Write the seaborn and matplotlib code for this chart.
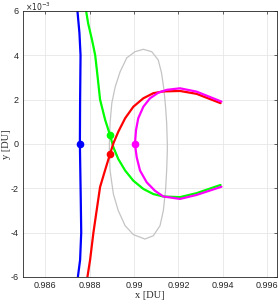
import numpy as np
import matplotlib
matplotlib.use("Agg")
import matplotlib.pyplot as plt
import seaborn as sns
from matplotlib.ticker import FuncFormatter

sns.set_style("whitegrid")
plt.rcParams['font.family'] = ['Liberation Sans', 'DejaVu Sans']

# trajectories (x in DU, y in 1e-3 DU)
blue_x = [0.98745, 0.98754, 0.98759, 0.98757, 0.98756, 0.98760, 0.98762, 0.98757, 0.98747, 0.98744]
blue_y = [6.0, 5.0, 4.0, 1.98, 0.0, -2.52, -4.0, -5.23, -6.0, -6.3]

green_x = [0.98782, 0.98784, 0.98793, 0.98811, 0.98825, 0.98834, 0.98847, 0.98870, 0.98892,
           0.98907, 0.98929, 0.98960, 0.98997, 0.99042, 0.99087, 0.99132, 0.99207, 0.99282, 0.99390]
green_y = [6.3, 6.0, 5.45, 4.68, 4.0, 3.2, 2.0, 1.08, 0.4,
           -0.15, -0.68, -1.20, -1.66, -2.03, -2.26, -2.37, -2.40, -2.22, -1.85]

red_x = [0.98788, 0.98790, 0.98802, 0.98817, 0.98832, 0.98847, 0.98870, 0.98892,
         0.98907, 0.98929, 0.98960, 0.98997, 0.99042, 0.99087, 0.99132, 0.99207, 0.99282, 0.99390]
red_y = [-6.3, -6.0, -5.23, -4.0, -2.97, -1.94, -1.17, -0.45,
         0.03, 0.55, 1.16, 1.68, 2.06, 2.29, 2.37, 2.39, 2.26, 1.84]

magenta_x = [0.99394, 0.99282, 0.99207, 0.99147, 0.99109, 0.99072, 0.99042, 0.99019, 0.99009, 0.99004,
             0.99012, 0.99027, 0.99057, 0.99094, 0.99132, 0.99207, 0.99282, 0.99394]
magenta_y = [1.91, 2.36, 2.51, 2.44, 2.31, 2.06, 1.68, 1.16, 0.63, 0.0,
             -0.60, -1.20, -1.73, -2.11, -2.37, -2.48, -2.30, -1.93]

gray_x = [0.98889, 0.98892, 0.98900, 0.98915, 0.98937, 0.98967, 0.99004, 0.99042, 0.99080,
          0.99109, 0.99124, 0.99135, 0.99142, 0.99147, 0.99150,
          0.99150, 0.99147, 0.99142, 0.99132, 0.99117, 0.99087, 0.99049, 0.98997,
          0.98960, 0.98929, 0.98907, 0.98892, 0.98889, 0.98889]
gray_y = [0.0, 0.95, 1.85, 2.57, 3.25, 3.88, 4.16, 4.27, 4.16,
          3.79, 3.20, 2.44, 1.68, 0.95, 0.0,
          -0.30, -1.20, -2.11, -3.01, -3.69, -4.14, -4.29, -4.09,
          -3.69, -3.01, -2.26, -1.20, -0.30, 0.0]

# start points
marker_x = [0.98755, 0.98892, 0.98892, 0.99004]
marker_y = [0.0, 0.4, -0.45, 0.0]
marker_colors = ['#0000ff', '#00ff00', '#ff0000', '#ff00ff']

fig = plt.figure(figsize=(2.78, 3.04), dpi=100)
ax = fig.add_axes([0.083, 0.089, 0.914, 0.875])

sns.lineplot(x=gray_x, y=gray_y, sort=False, estimator=None, color='#c4c4c4', lw=0.9, ax=ax)
sns.lineplot(x=blue_x, y=blue_y, sort=False, estimator=None, color='#0000ff', lw=1.6, ax=ax)
sns.lineplot(x=green_x, y=green_y, sort=False, estimator=None, color='#00ff00', lw=1.6, ax=ax)
sns.lineplot(x=red_x, y=red_y, sort=False, estimator=None, color='#ff0000', lw=1.6, ax=ax)
sns.lineplot(x=magenta_x, y=magenta_y, sort=False, estimator=None, color='#ff00ff', lw=1.6, ax=ax)
for mx, my, c in zip(marker_x, marker_y, marker_colors):
    ax.plot(mx, my, 'o', color=c, ms=4.5, zorder=5)

ax.set_xlim(0.985, 0.99645)
ax.set_ylim(-6, 6)
ax.set_xticks([0.986, 0.988, 0.990, 0.992, 0.994, 0.996])
ax.set_yticks([-6, -4, -2, 0, 2, 4, 6])
ax.xaxis.set_major_formatter(FuncFormatter(lambda v, p: f"{v:g}"))
ax.yaxis.set_major_formatter(FuncFormatter(lambda v, p: f"{v:g}"))

ax.grid(True, color='#e6e6e6', lw=0.6)
for s in ax.spines.values():
    s.set_color('#262626')
    s.set_linewidth(0.6)
ax.tick_params(direction='in', length=2.5, width=0.5, colors='#262626',
               labelsize=6.5, top=True, right=True, pad=3)

ax.set_xlabel('x [DU]', family='Liberation Serif', fontsize=7.5, color='#262626', labelpad=1)
ax.set_ylabel('y [DU]', family='Liberation Serif', fontsize=7.5, color='#262626', labelpad=0)
fig.text(25 / 278, 1 - 1 / 304, r'$\times10^{-3}$', fontsize=5.5,
         color='#262626', ha='left', va='top')

fig.savefig('out.png', dpi=100)
